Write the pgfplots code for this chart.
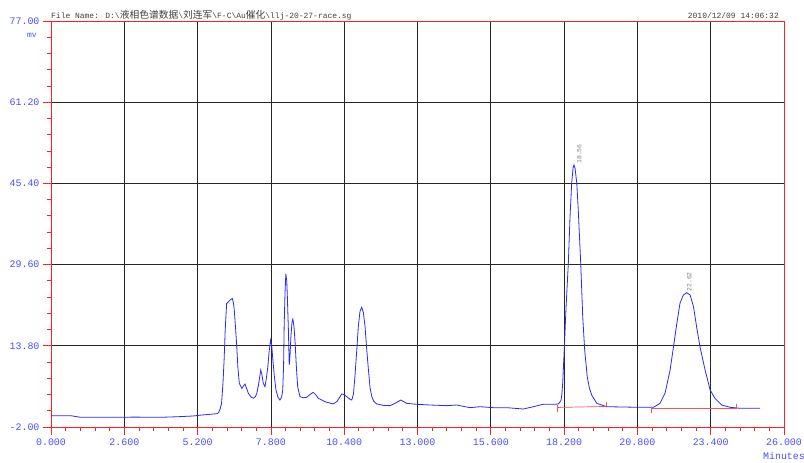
\documentclass[border=0pt]{standalone}
\usepackage{fontspec}
\setmainfont{Liberation Mono}
\newfontfamily\cjk{Noto Sans CJK SC}
\usepackage{pgfplots}
\pgfplotsset{compat=1.18}
\definecolor{lblue}{HTML}{4D4DFF}
\definecolor{cblue}{HTML}{2828FF}
\definecolor{axred}{HTML}{FF2020}
\definecolor{bred}{HTML}{FF5050}
\definecolor{hdr}{HTML}{404040}
\newcommand{\ck}[1]{{\cjk\fontsize{9.8}{10}\selectfont #1}}
\begin{document}
\begin{tikzpicture}
\begin{axis}[
  at={(0,0)}, anchor=south west,
  scale only axis, width=733bp, height=406bp,
  xmin=0, xmax=26, ymin=-2, ymax=77,
  xtick={0,2.6,5.2,7.8,10.4,13,15.6,18.2,20.8,23.4,26},
  xticklabels={0.000,2.600,5.200,7.800,10.400,13.000,15.600,18.200,20.800,23.400,26.000},
  ytick={-2,13.8,29.6,45.4,61.2,77},
  yticklabels={-2.00,13.80,29.60,45.40,61.20,77.00},
  minor x tick num=4, minor y tick num=4,
  tick pos=left, tick align=outside,
  major tick length=8bp, minor tick length=4bp,
  tick style={axred, line width=0.8bp},
  axis line style={axred, line width=0.8bp},
  grid=major, major grid style={black!85, line width=0.8bp},
  tick label style={font=\fontsize{10}{12}\selectfont, text=lblue},
  clip=false,
]
\addplot[cblue, line width=0.8bp] coordinates {
(0,0.2) (0.7,0.2) (1.03,-0.1) (2.0,-0.1) (3.0,-0.08) (3.97,-0.1) (4.5,0.0)
(5.04,0.14) (5.29,0.3) (5.6,0.45) (5.89,0.6) (5.94,0.78) (6.0,1.5) (6.05,2.6)
(6.1,6.5) (6.14,11.0) (6.18,17.0) (6.23,22.0) (6.35,22.7) (6.43,23.0) (6.47,22.2)
(6.50,20.8) (6.55,17.0) (6.59,13.6) (6.63,9.5) (6.68,6.5) (6.77,5.5) (6.83,6.0)
(6.88,6.37) (6.94,5.5) (7.0,4.56) (7.1,3.8) (7.18,3.6) (7.25,3.9) (7.30,4.56)
(7.37,6.5) (7.44,9.1) (7.48,8.2) (7.53,6.5) (7.59,5.85) (7.64,7.5) (7.69,9.7)
(7.74,12.8) (7.79,14.9) (7.83,13.8) (7.86,11.7) (7.92,8.0) (7.98,5.2) (8.05,3.8)
(8.12,3.25) (8.18,3.8) (8.22,5.2) (8.25,10) (8.27,17.5) (8.30,24) (8.33,27.8)
(8.36,26.5) (8.38,24.0) (8.42,17) (8.45,10.06) (8.48,12) (8.51,15.6) (8.55,18.5)
(8.58,19.0) (8.62,17.5) (8.66,14.3) (8.70,10) (8.75,5.84) (8.83,3.9) (8.95,3.7)
(9.07,3.78) (9.18,4.3) (9.30,4.75) (9.40,4.2) (9.48,3.6) (9.72,2.92) (10.01,2.48)
(10.15,3.0) (10.31,4.42) (10.40,4.3) (10.49,3.9) (10.60,3.4) (10.67,3.25) (10.73,4.5)
(10.78,7.8) (10.84,12.5) (10.9,17.5) (10.96,20.5) (11.02,21.3) (11.08,20.3) (11.14,17.5)
(11.20,13.0) (11.26,9.1) (11.32,5.5) (11.38,3.9) (11.45,3.0) (11.55,2.5) (11.8,2.2)
(12.03,2.15) (12.2,2.6) (12.41,3.25) (12.62,2.6) (12.97,2.42) (13.44,2.28) (14.04,2.15)
(14.39,2.28) (14.86,1.76) (15.22,1.95) (15.69,1.76) (16.17,1.76) (16.75,1.5) (17.11,1.95)
(17.46,2.42) (17.88,2.42) (18.0,2.5) (18.06,2.92) (18.09,3.2) (18.12,4.3) (18.15,6.5)
(18.21,13.6) (18.27,21.4) (18.35,29.85) (18.41,38.9) (18.47,45.5) (18.52,48.5) (18.55,49.0)
(18.59,48.3) (18.65,45.4) (18.70,40.5) (18.74,35.7) (18.79,29.85) (18.86,19.5) (18.93,13.0)
(19.02,7.8) (19.10,5.5) (19.18,4.2) (19.36,2.6) (19.71,1.95) (20.2,1.9) (20.89,1.83)
(21.37,1.83) (21.6,2.6) (21.78,4.56) (21.96,9.1) (22.08,13.6) (22.2,18.2) (22.31,22.07)
(22.43,23.7) (22.55,24.13) (22.67,23.7) (22.79,21.4) (22.9,17.5) (23.02,13.6) (23.2,9.1)
(23.38,5.2) (23.55,3.58) (23.79,2.28) (24.09,1.83) (24.44,1.64) (25.15,1.64)
};
% integration baselines
\addplot[bred, line width=0.7bp] coordinates {(17.96,1.8) (19.69,2.0)};
\addplot[bred, line width=0.7bp] coordinates {(17.96,2.2) (17.96,0.9)};
\addplot[bred, line width=0.7bp] coordinates {(19.69,2.0) (19.69,2.9)};
\addplot[bred, line width=0.7bp] coordinates {(21.31,1.6) (24.32,1.6)};
\addplot[bred, line width=0.7bp] coordinates {(21.31,1.6) (21.31,0.7)};
\addplot[bred, line width=0.7bp] coordinates {(24.32,1.6) (24.32,2.4)};
\node[rotate=90, anchor=north west, inner sep=0pt, text=gray, font=\fontsize{6.5}{7}\selectfont] at (axis cs:18.65,49.2) {18.56};
\node[rotate=90, anchor=north west, inner sep=0pt, text=gray, font=\fontsize{6.5}{7}\selectfont] at (axis cs:22.55,24.3) {22.62};
\end{axis}
\node[anchor=base west, inner sep=0pt, text=hdr, font=\fontsize{8}{9}\selectfont] at (0bp,408.5bp)
 {File Name: D:\textbackslash\ck{液相色谱数据}\textbackslash\ck{刘连军}\textbackslash F-C\textbackslash Au\ck{催化}\textbackslash llj-20-27-race.sg};
\node[anchor=base east, inner sep=0pt, text=hdr, font=\fontsize{8}{9}\selectfont] at (728bp,408.5bp) {2010/12/09 14:06:32};
\node[text=lblue, inner sep=0pt, font=\fontsize{8}{9}\selectfont] at (-19bp,392bp) {mv};
\node[text=lblue, inner sep=0pt, font=\fontsize{10}{12}\selectfont] at (733bp,-29bp) {Minutes};
\pgfresetboundingbox
\path[use as bounding box] (-51bp,-36bp) rectangle (753bp,427bp);
\end{tikzpicture}
\end{document}
